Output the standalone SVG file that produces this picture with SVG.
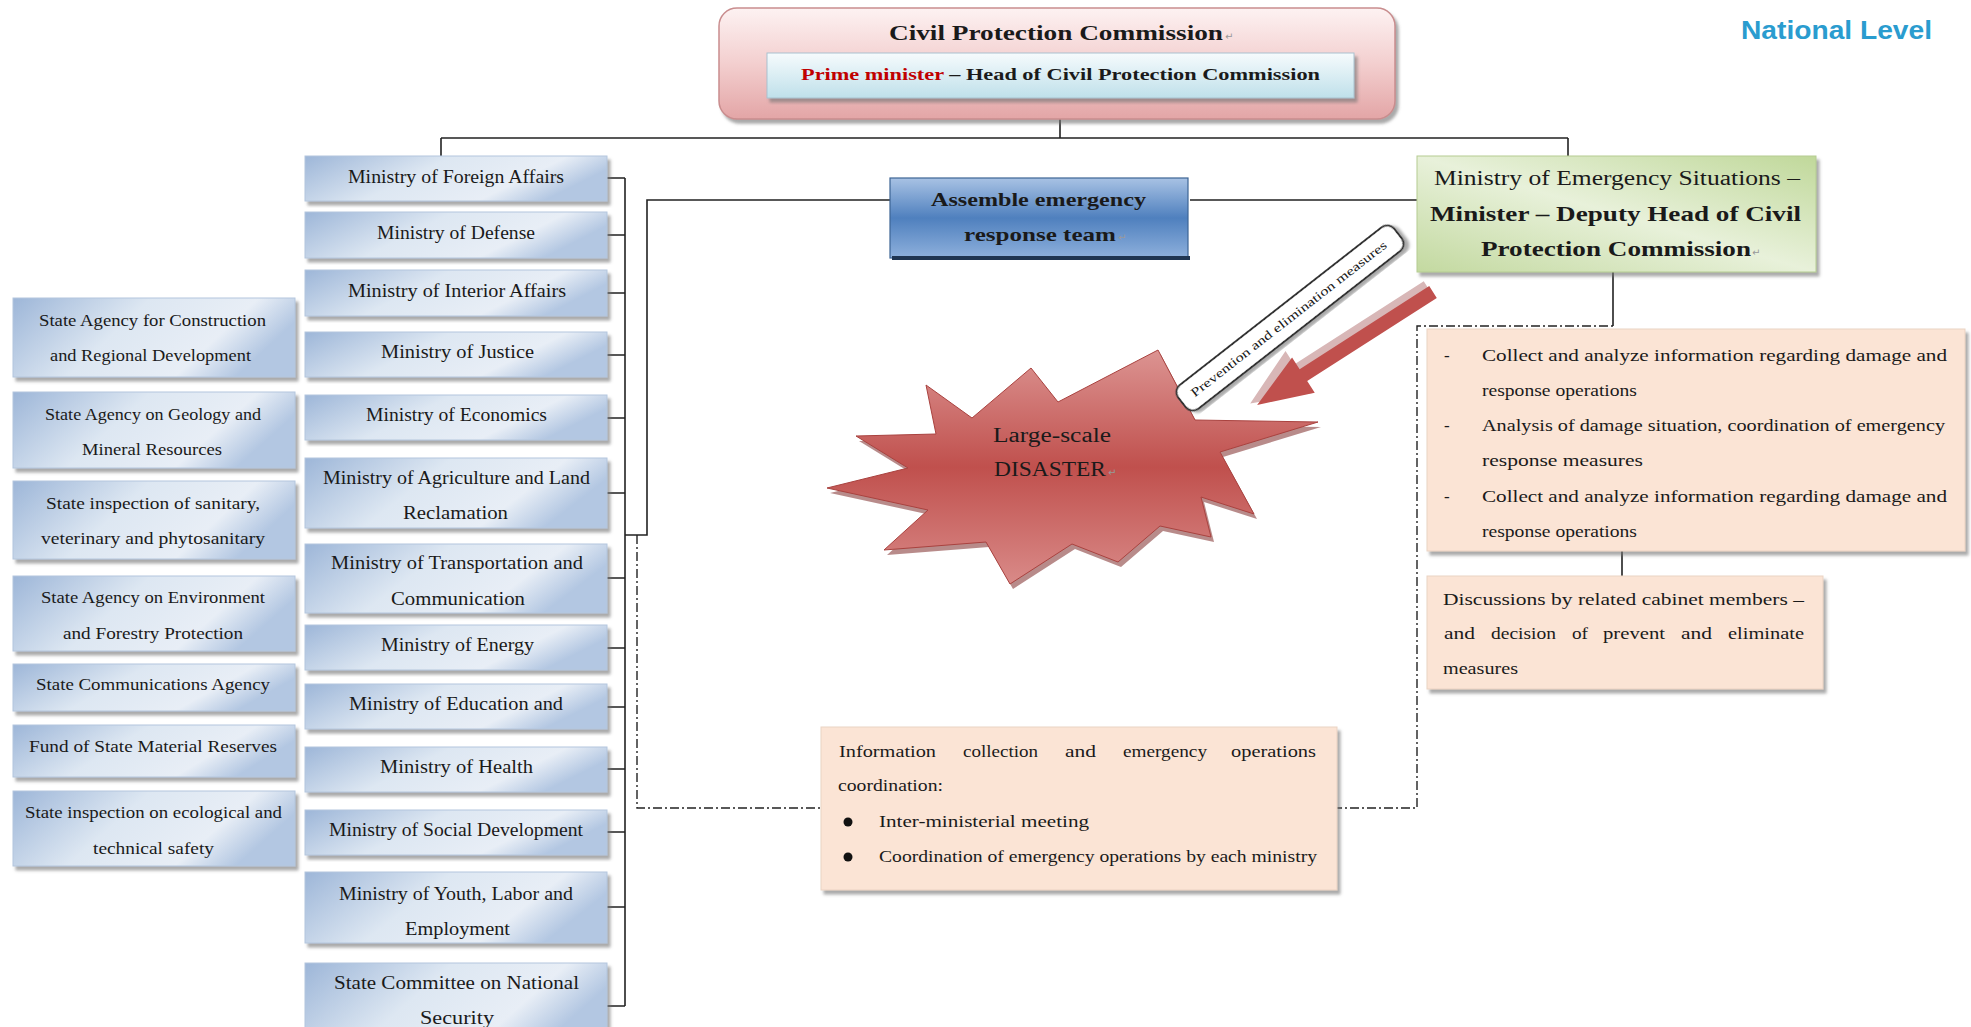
<svg xmlns="http://www.w3.org/2000/svg" width="1971" height="1027" viewBox="0 0 1971 1027">
<defs>
<linearGradient id="gTop" x1="0" y1="0" x2="0" y2="1"><stop offset="0" stop-color="#fdf2f2"/><stop offset="0.5" stop-color="#f3cfcf"/><stop offset="1" stop-color="#e3a5a6"/></linearGradient>
<linearGradient id="gInner" x1="0" y1="0" x2="0" y2="1"><stop offset="0" stop-color="#f6fbfd"/><stop offset="1" stop-color="#bfe0ea"/></linearGradient>
<linearGradient id="gMin" x1="0" y1="0" x2="1" y2="0.3"><stop offset="0" stop-color="#9db6d8"/><stop offset="0.45" stop-color="#dde7f2"/><stop offset="0.8" stop-color="#e8eef6"/><stop offset="1" stop-color="#b3c7e2"/></linearGradient>
<linearGradient id="gAsm" x1="0" y1="0" x2="0" y2="1"><stop offset="0" stop-color="#a8c2e4"/><stop offset="0.5" stop-color="#4f80be"/><stop offset="1" stop-color="#8eb0dc"/></linearGradient>
<linearGradient id="gMes" x1="0" y1="1" x2="1" y2="0"><stop offset="0" stop-color="#c3d9a0"/><stop offset="0.5" stop-color="#e8f1da"/><stop offset="1" stop-color="#c0d89a"/></linearGradient>
<linearGradient id="gStar" x1="0" y1="0" x2="0" y2="1"><stop offset="0" stop-color="#dc9492"/><stop offset="0.5" stop-color="#c0504d"/><stop offset="1" stop-color="#d98a88"/></linearGradient>
<filter id="sh" x="-5%" y="-5%" width="112%" height="120%"><feDropShadow dx="3" dy="4" stdDeviation="1.5" flood-color="#6f6f6f" flood-opacity="0.6"/></filter>
<style>
.t{font-family:"Liberation Serif","DejaVu Serif",serif;fill:#1a1a1a}
.m{font-size:18px}
.s{font-size:17px}
.b{font-weight:bold}
.mk{font-family:"DejaVu Sans",sans-serif;font-size:10px;fill:#999}
.min{fill:url(#gMin);stroke:#b4c6dd;stroke-width:1}
.peach{fill:#fbe4d5;stroke:#ead3c3;stroke-width:1}
</style>
</defs>
<rect width="1971" height="1027" fill="#ffffff"/>

<text x="1741" y="39" font-family="Liberation Sans, Arial, sans-serif" font-weight="bold" font-size="25" fill="#2a9ccf" textLength="191" lengthAdjust="spacingAndGlyphs">National Level</text>

<g id="connectors" fill="none" stroke="#222" stroke-width="1.6">
<path d="M1060 119V138M441 138H1568M441 138V156M1568 138V156"/>
<path d="M607 178H625M607 235H625M607 293H625M607 355H625M607 418H625M607 493H625M607 578H625M607 648H625M607 707H625M607 769H625M607 832H625M607 907H625M607 1006H625M625 178V1006"/>
<path d="M625 535H647V200H890M1190 200H1417"/>
<path d="M1613 272V326M1622 551V576"/>
<path d="M637 535V808H1417V326H1613" stroke-dasharray="9 3 2 3" stroke-width="1.4"/>
</g>

<g id="civil-protection-commission">
<rect x="719" y="8" width="676" height="111" rx="18" fill="url(#gTop)" stroke="#c98d8e" stroke-width="1.5" filter="url(#sh)"/>
<text class="t b" x="889" y="40" font-size="21" textLength="334" lengthAdjust="spacingAndGlyphs">Civil Protection Commission</text>
<text class="mk" x="1225" y="40">↵</text>
<rect x="767" y="53" width="587" height="45" fill="url(#gInner)" stroke="#a9c2cf" stroke-width="1" filter="url(#sh)"/>
<text class="t b" x="801" y="80" font-size="17" textLength="519" lengthAdjust="spacingAndGlyphs"><tspan fill="#c00000">Prime minister</tspan> – Head of Civil Protection Commission</text>
</g>

<g id="ministries" class="t m">
<g id="min-foreign"><rect class="min" x="305" y="156" width="302" height="45" filter="url(#sh)"/><text x="348" y="183" textLength="216" lengthAdjust="spacingAndGlyphs">Ministry of Foreign Affairs</text></g>
<g id="min-defense"><rect class="min" x="305" y="212" width="302" height="46" filter="url(#sh)"/><text x="377" y="239" textLength="158" lengthAdjust="spacingAndGlyphs">Ministry of Defense</text></g>
<g id="min-interior"><rect class="min" x="305" y="270" width="302" height="46" filter="url(#sh)"/><text x="348" y="297" textLength="218" lengthAdjust="spacingAndGlyphs">Ministry of Interior Affairs</text></g>
<g id="min-justice"><rect class="min" x="305" y="332" width="302" height="45" filter="url(#sh)"/><text x="381" y="358" textLength="153" lengthAdjust="spacingAndGlyphs">Ministry of Justice</text></g>
<g id="min-economics"><rect class="min" x="305" y="395" width="302" height="45" filter="url(#sh)"/><text x="366" y="421" textLength="181" lengthAdjust="spacingAndGlyphs">Ministry of Economics</text></g>
<g id="min-agriculture"><rect class="min" x="305" y="458" width="302" height="70" filter="url(#sh)"/><text x="323" y="484" textLength="267" lengthAdjust="spacingAndGlyphs">Ministry of Agriculture and Land</text><text x="403" y="519" textLength="105" lengthAdjust="spacingAndGlyphs">Reclamation</text></g>
<g id="min-transport"><rect class="min" x="305" y="544" width="302" height="69" filter="url(#sh)"/><text x="331" y="569" textLength="252" lengthAdjust="spacingAndGlyphs">Ministry of Transportation and</text><text x="391" y="605" textLength="134" lengthAdjust="spacingAndGlyphs">Communication</text></g>
<g id="min-energy"><rect class="min" x="305" y="625" width="302" height="45" filter="url(#sh)"/><text x="381" y="651" textLength="153" lengthAdjust="spacingAndGlyphs">Ministry of Energy</text></g>
<g id="min-education"><rect class="min" x="305" y="684" width="302" height="45" filter="url(#sh)"/><text x="349" y="710" textLength="214" lengthAdjust="spacingAndGlyphs">Ministry of Education and</text></g>
<g id="min-health"><rect class="min" x="305" y="747" width="302" height="45" filter="url(#sh)"/><text x="380" y="773" textLength="153" lengthAdjust="spacingAndGlyphs">Ministry of Health</text></g>
<g id="min-social"><rect class="min" x="305" y="810" width="302" height="45" filter="url(#sh)"/><text x="329" y="836" textLength="254" lengthAdjust="spacingAndGlyphs">Ministry of Social Development</text></g>
<g id="min-youth"><rect class="min" x="305" y="872" width="302" height="71" filter="url(#sh)"/><text x="339" y="900" textLength="234" lengthAdjust="spacingAndGlyphs">Ministry of Youth, Labor and</text><text x="405" y="935" textLength="105" lengthAdjust="spacingAndGlyphs">Employment</text></g>
<g id="state-committee-security"><rect class="min" x="305" y="963" width="302" height="80" filter="url(#sh)"/><text x="334" y="989" textLength="245" lengthAdjust="spacingAndGlyphs">State Committee on National</text><text x="420" y="1024" textLength="74" lengthAdjust="spacingAndGlyphs">Security</text></g>
</g>

<g id="agencies" class="t s">
<g id="ag-construction"><rect class="min" x="13" y="298" width="282" height="79" filter="url(#sh)"/><text x="39" y="326" textLength="227" lengthAdjust="spacingAndGlyphs">State Agency for Construction</text><text x="50" y="361" textLength="201" lengthAdjust="spacingAndGlyphs">and Regional Development</text></g>
<g id="ag-geology"><rect class="min" x="13" y="392" width="282" height="76" filter="url(#sh)"/><text x="45" y="420" textLength="216" lengthAdjust="spacingAndGlyphs">State Agency on Geology and</text><text x="82" y="455" textLength="140" lengthAdjust="spacingAndGlyphs">Mineral Resources</text></g>
<g id="ag-sanitary"><rect class="min" x="13" y="481" width="282" height="78" filter="url(#sh)"/><text x="46" y="509" textLength="214" lengthAdjust="spacingAndGlyphs">State inspection of sanitary,</text><text x="41" y="544" textLength="224" lengthAdjust="spacingAndGlyphs">veterinary and phytosanitary</text></g>
<g id="ag-environment"><rect class="min" x="13" y="576" width="282" height="75" filter="url(#sh)"/><text x="41" y="603" textLength="224" lengthAdjust="spacingAndGlyphs">State Agency on Environment</text><text x="63" y="639" textLength="180" lengthAdjust="spacingAndGlyphs">and Forestry Protection</text></g>
<g id="ag-communications"><rect class="min" x="13" y="664" width="282" height="47" filter="url(#sh)"/><text x="36" y="690" textLength="234" lengthAdjust="spacingAndGlyphs">State Communications Agency</text></g>
<g id="ag-reserves"><rect class="min" x="13" y="725" width="282" height="52" filter="url(#sh)"/><text x="29" y="752" textLength="248" lengthAdjust="spacingAndGlyphs">Fund of State Material Reserves</text></g>
<g id="ag-ecological"><rect class="min" x="13" y="791" width="282" height="75" filter="url(#sh)"/><text x="25" y="818" textLength="257" lengthAdjust="spacingAndGlyphs">State inspection on ecological and</text><text x="93" y="854" textLength="121" lengthAdjust="spacingAndGlyphs">technical safety</text></g>
</g>

<g id="assemble-team">
<rect x="890" y="178" width="298" height="80" fill="url(#gAsm)" stroke="#3d6494" stroke-width="1.2"/>
<rect x="892" y="256" width="298" height="4" fill="#1f3552"/>
<text class="t b" x="931" y="206" font-size="19" textLength="215" lengthAdjust="spacingAndGlyphs">Assemble emergency</text>
<text class="t b" x="964" y="241" font-size="19" textLength="152" lengthAdjust="spacingAndGlyphs">response team</text>
<text class="mk" x="1118" y="241">↵</text>
</g>

<g id="mes">
<rect x="1417" y="156" width="399" height="116" fill="url(#gMes)" stroke="#b5cc92" stroke-width="1" filter="url(#sh)"/>
<text class="t" x="1434" y="185" font-size="20" textLength="366" lengthAdjust="spacingAndGlyphs">Ministry of Emergency Situations –</text>
<text class="t b" x="1430" y="221" font-size="21" textLength="371" lengthAdjust="spacingAndGlyphs">Minister – Deputy Head of Civil</text>
<text class="t b" x="1481" y="256" font-size="21" textLength="270" lengthAdjust="spacingAndGlyphs">Protection Commission</text>
<text class="mk" x="1752" y="256">↵</text>
</g>

<g id="disaster">
<polygon points="827,488 908,468 856,436 936,434 926,385 972,418 1031,368 1058,402 1158,350 1195,420 1318,422 1220,452 1254,514 1201,497 1211,537 1160,526 1118,562 1072,544 1010,584 986,542 884,550 928,510" fill="#7e2c2a" opacity="0.55" transform="translate(3,5)"/>
<polygon points="827,488 908,468 856,436 936,434 926,385 972,418 1031,368 1058,402 1158,350 1195,420 1318,422 1220,452 1254,514 1201,497 1211,537 1160,526 1118,562 1072,544 1010,584 986,542 884,550 928,510" fill="url(#gStar)" stroke="#a9423f" stroke-width="1"/>
<text class="t" x="993" y="442" font-size="20" textLength="118" lengthAdjust="spacingAndGlyphs">Large-scale</text>
<text class="t" x="994" y="476" font-size="20" textLength="112" lengthAdjust="spacingAndGlyphs">DISASTER</text>
<text class="mk" x="1108" y="476">↵</text>
</g>

<g id="measures-label" transform="translate(1290,318) rotate(-38)">
<rect x="-137" y="-15" width="274" height="30" rx="9" fill="#ffffff" stroke="#333" stroke-width="2" filter="url(#sh)"/>
<text class="t" x="-124" y="4" font-size="12.5" fill="#1e2f55" textLength="245" lengthAdjust="spacingAndGlyphs">Prevention and elimination measures</text>
</g>

<g id="red-arrow" transform="translate(1433,292) rotate(147.3)">
<polygon points="0,-9 154,-9 154,-25 212,0 154,25 154,9 0,9" fill="#d8b7b7" transform="translate(2,5)"/>
<polygon points="0,-7 154,-7 154,-21 209,0 154,21 154,7 0,7" fill="#c0504d"/>
</g>

<g id="mes-tasks">
<rect class="peach" x="1427" y="329" width="538" height="222" filter="url(#sh)"/>
<g class="t s">
<text x="1444" y="361">-</text><text x="1482" y="361" textLength="465" lengthAdjust="spacingAndGlyphs">Collect and analyze information regarding damage and</text>
<text x="1482" y="396" textLength="155" lengthAdjust="spacingAndGlyphs">response operations</text>
<text x="1444" y="431">-</text><text x="1482" y="431" textLength="463" lengthAdjust="spacingAndGlyphs">Analysis of damage situation, coordination of emergency</text>
<text x="1482" y="466" textLength="161" lengthAdjust="spacingAndGlyphs">response measures</text>
<text x="1444" y="502">-</text><text x="1482" y="502" textLength="465" lengthAdjust="spacingAndGlyphs">Collect and analyze information regarding damage and</text>
<text x="1482" y="537" textLength="155" lengthAdjust="spacingAndGlyphs">response operations</text>
</g>
</g>

<g id="cabinet-discussion">
<rect class="peach" x="1427" y="576" width="396" height="113" filter="url(#sh)"/>
<g class="t s">
<text x="1443" y="605" textLength="361" lengthAdjust="spacingAndGlyphs">Discussions by related cabinet members –</text>
<text x="1444" y="639" textLength="31" lengthAdjust="spacingAndGlyphs">and</text>
<text x="1491" y="639" textLength="65" lengthAdjust="spacingAndGlyphs">decision</text>
<text x="1572" y="639" textLength="16" lengthAdjust="spacingAndGlyphs">of</text>
<text x="1603" y="639" textLength="62" lengthAdjust="spacingAndGlyphs">prevent</text>
<text x="1681" y="639" textLength="31" lengthAdjust="spacingAndGlyphs">and</text>
<text x="1728" y="639" textLength="76" lengthAdjust="spacingAndGlyphs">eliminate</text>
<text x="1443" y="674" textLength="75" lengthAdjust="spacingAndGlyphs">measures</text>
</g>
</g>

<g id="info-coordination">
<rect class="peach" x="821" y="727" width="516" height="163" filter="url(#sh)"/>
<g class="t" font-size="16">
<text x="839" y="757" textLength="97" lengthAdjust="spacingAndGlyphs">Information</text>
<text x="963" y="757" textLength="75" lengthAdjust="spacingAndGlyphs">collection</text>
<text x="1065" y="757" textLength="31" lengthAdjust="spacingAndGlyphs">and</text>
<text x="1123" y="757" textLength="84" lengthAdjust="spacingAndGlyphs">emergency</text>
<text x="1231" y="757" textLength="85" lengthAdjust="spacingAndGlyphs">operations</text>
<text x="838" y="791" textLength="105" lengthAdjust="spacingAndGlyphs">coordination:</text>
<circle cx="848" cy="822" r="4.5" fill="#111"/>
<text x="879" y="827" textLength="210" lengthAdjust="spacingAndGlyphs">Inter-ministerial meeting</text>
<circle cx="848" cy="857" r="4.5" fill="#111"/>
<text x="879" y="862" textLength="438" lengthAdjust="spacingAndGlyphs">Coordination of emergency operations by each ministry</text>
</g>
</g>
</svg>
